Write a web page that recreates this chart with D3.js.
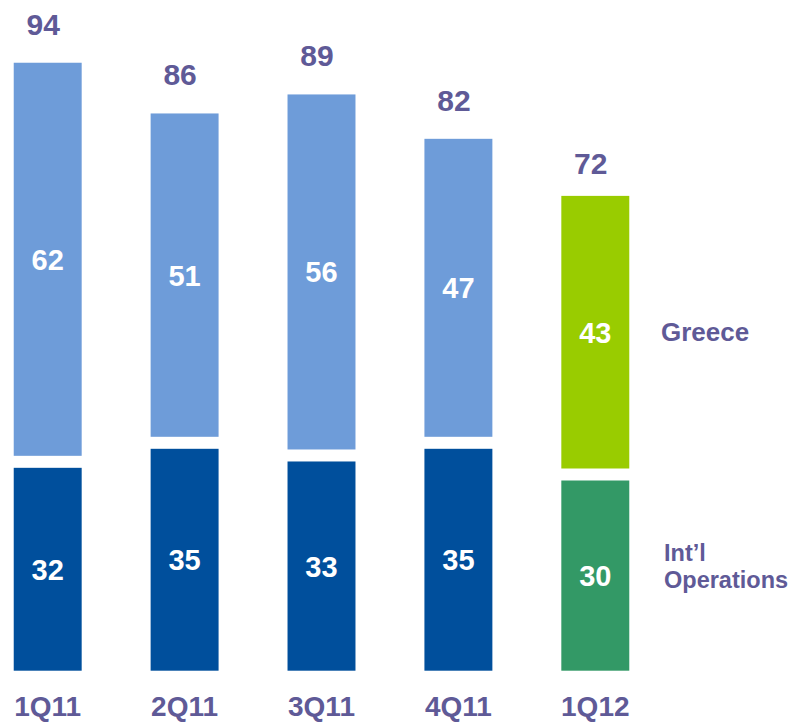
<!DOCTYPE html>
<html><head><meta charset="utf-8">
<script src="https://cdn.jsdelivr.net/npm/d3@7"></script>
<style>html,body{margin:0;padding:0;background:#fff;overflow:hidden}svg{display:block}</style>
</head><body><svg id="c" width="794" height="722"></svg>
<script>
const categories = ["1Q11","2Q11","3Q11","4Q11","1Q12"];
const intl = [32,35,33,35,30];
const greece = [62,51,56,47,43];
const totals = [94,86,89,82,72];
const seriesNames = ["Greece","Int\u2019l Operations"];

const greeceColors = ["#6e9cd9","#6e9cd9","#6e9cd9","#6e9cd9","#99cc00"];
const intlColors = ["#004f9c","#004f9c","#004f9c","#004f9c","#339966"];
const purple = "#5f5a97";
const font = "'Liberation Sans', Arial, sans-serif";

const svg = d3.select("#c");
const x = d3.scaleBand().domain(categories).range([-20.5, 663.5]).paddingInner(0.5036).paddingOuter(0.25);
const y = d3.scaleLinear().domain([0, 100]).range([670.7, 670.7 - 634]);
const gap = 12;

const data = categories.map((c,i)=>({c, i, intl:intl[i], greece:greece[i], total:totals[i]}));

const g = svg.append("g");
g.selectAll("rect.intl").data(data).join("rect")
  .attr("x", d=>x(d.c)).attr("width", x.bandwidth())
  .attr("y", d=>y(d.intl)).attr("height", d=>y(0)-y(d.intl))
  .attr("fill", d=>intlColors[d.i]);
g.selectAll("rect.gr").data(data).join("rect")
  .attr("x", d=>x(d.c)).attr("width", x.bandwidth())
  .attr("y", d=>y(d.intl+d.greece)-gap).attr("height", d=>y(d.intl)-y(d.intl+d.greece))
  .attr("fill", d=>greeceColors[d.i]);

g.selectAll("text.il").data(data).join("text")
  .attr("x", d=>x(d.c)+x.bandwidth()/2)
  .attr("y", d=>(y(0)+y(d.intl))/2 + 10.5)
  .attr("text-anchor","middle").attr("fill","#fff")
  .style("font", `bold 29px ${font}`).text(d=>d.intl);
g.selectAll("text.gl").data(data).join("text")
  .attr("x", d=>x(d.c)+x.bandwidth()/2)
  .attr("y", d=>(y(d.intl)+y(d.intl+d.greece))/2 - gap + 10.5)
  .attr("text-anchor","middle").attr("fill","#fff")
  .style("font", `bold 29px ${font}`).text(d=>d.greece);
g.selectAll("text.tl").data(data).join("text")
  .attr("x", d=>x(d.c)+x.bandwidth()/2 - 4.5)
  .attr("y", d=>y(d.total)-gap-28)
  .attr("text-anchor","middle").attr("fill",purple)
  .style("font", `bold 30px ${font}`).text(d=>d.total);
g.selectAll("text.cat").data(data).join("text")
  .attr("x", d=>x(d.c)+x.bandwidth()/2)
  .attr("y", 716)
  .attr("text-anchor","middle").attr("fill",purple)
  .style("font", `bold 28px ${font}`).text(d=>d.c);

const lx = 661;
svg.append("text").attr("x", lx).attr("y", 340.5).attr("fill",purple)
  .style("font", `bold 26px ${font}`).text(seriesNames[0]);
const t2 = svg.append("text").attr("x", lx+3).attr("y", 560.5).attr("fill",purple)
  .style("font", `bold 23.5px ${font}`);
t2.append("tspan").attr("x", lx+3).text("Int\u2019l");
t2.append("tspan").attr("x", lx+3).attr("dy", 27.5).text("Operations");
</script></body></html>
